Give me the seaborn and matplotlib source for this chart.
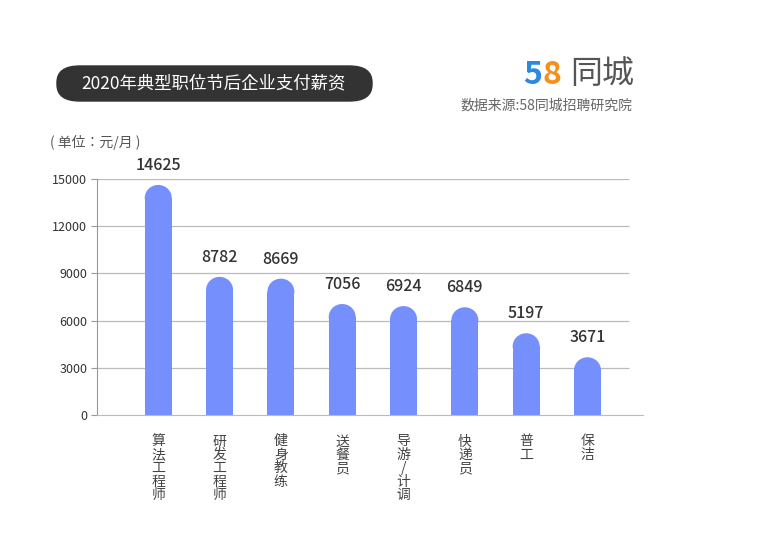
import glob
import numpy as np
import pandas as pd
import seaborn as sns
import matplotlib.pyplot as plt
from matplotlib import font_manager
from matplotlib.patches import Ellipse, FancyBboxPatch

cjk = 'Noto Sans CJK SC'
for f in glob.glob('/usr/share/fonts/**/*CJK*', recursive=True) + \
        glob.glob('/usr/local/share/fonts/**/*CJK*', recursive=True):
    try:
        font_manager.fontManager.addfont(f)
    except Exception:
        pass
names = {f.name for f in font_manager.fontManager.ttflist}
if cjk not in names:
    cands = [n for n in names if 'CJK' in n]
    if cands:
        cjk = sorted(cands)[0]
plt.rcParams['font.family'] = [cjk, 'DejaVu Sans']

jobs = ['算\n法\n工\n程\n师', '研\n发\n工\n程\n师', '健\n身\n教\n练', '送\n餐\n员',
        '导\n游\n/\n计\n调', '快\n递\n员', '普\n工', '保\n洁']
salary = [14625, 8782, 8669, 7056, 6924, 6849, 5197, 3671]
yticks = [0, 3000, 6000, 9000, 12000, 15000]

bar_color = '#7590fd'
df = pd.DataFrame({'job': jobs, 'salary': salary})

fig = plt.figure(figsize=(7.57, 5.45), dpi=100)
ax = fig.add_axes([0.128, 0.2385, 0.721, 0.433])

cap = 1650
w = 0.44
sns.barplot(x=np.arange(len(jobs)), y=df.salary - cap / 2, color=bar_color, width=w,
            saturation=1, ax=ax, native_scale=True)
for i, v in enumerate(salary):
    ax.add_patch(Ellipse((i, v - cap / 2), w, cap, color=bar_color, lw=0))
    ax.text(i, v + 700, str(v), ha='center', va='bottom', fontsize=11.5, color='#333333',
            fontweight='medium')

ax.set_xlim(-1, 7.9)
ax.set_ylim(0, 15000)
ax.hlines(yticks[1:], -1, 7.67, color='#bbbbbb', lw=0.9, zorder=0)
ax.set_yticks(yticks)
ax.set_yticklabels([str(t) for t in yticks], fontsize=9, color='#333333')
ax.set_xticks(range(len(jobs)))
ax.set_xticklabels(jobs, fontsize=10, color='#444444', linespacing=0.95, va='top')
ax.tick_params(axis='x', length=0, pad=14)
ax.tick_params(axis='y', length=4, color='#999999', pad=3)
for s in ['top', 'right']:
    ax.spines[s].set_visible(False)
ax.spines['left'].set_color('#999999')
ax.spines['bottom'].set_color('#bbbbbb')
ax.set_xlabel('')
ax.set_ylabel('')

# title box
fig.patches.append(FancyBboxPatch((57 / 757, 1 - 101 / 545), 315 / 757, 35 / 545,
                                  boxstyle='round,pad=0,rounding_size=0.03',
                                  transform=fig.transFigure, color='#333333'))
fig.text(214 / 757, 1 - 83.5 / 545, '2020年典型职位节后企业支付薪资', color='white',
         fontsize=12.5, ha='center', va='center')

fig.text(523 / 757, 1 - 75 / 545, '5', color='#2a8ae0', fontsize=23, fontweight='bold',
         ha='left', va='center')
fig.text(542 / 757, 1 - 75 / 545, '8', color='#f5901e', fontsize=23, fontweight='bold',
         ha='left', va='center')
fig.text(634 / 757, 1 - 74 / 545, '同城', color='#555555', fontsize=23, ha='right', va='center')
fig.text(633 / 757, 1 - 106 / 545, '数据来源:58同城招聘研究院', color='#666666', fontsize=10,
         ha='right', va='center')
fig.text(50 / 757, 1 - 142 / 545, '( 单位：元/月 )', color='#555555', fontsize=10,
         ha='left', va='center')

fig.savefig('out.png', dpi=100)
